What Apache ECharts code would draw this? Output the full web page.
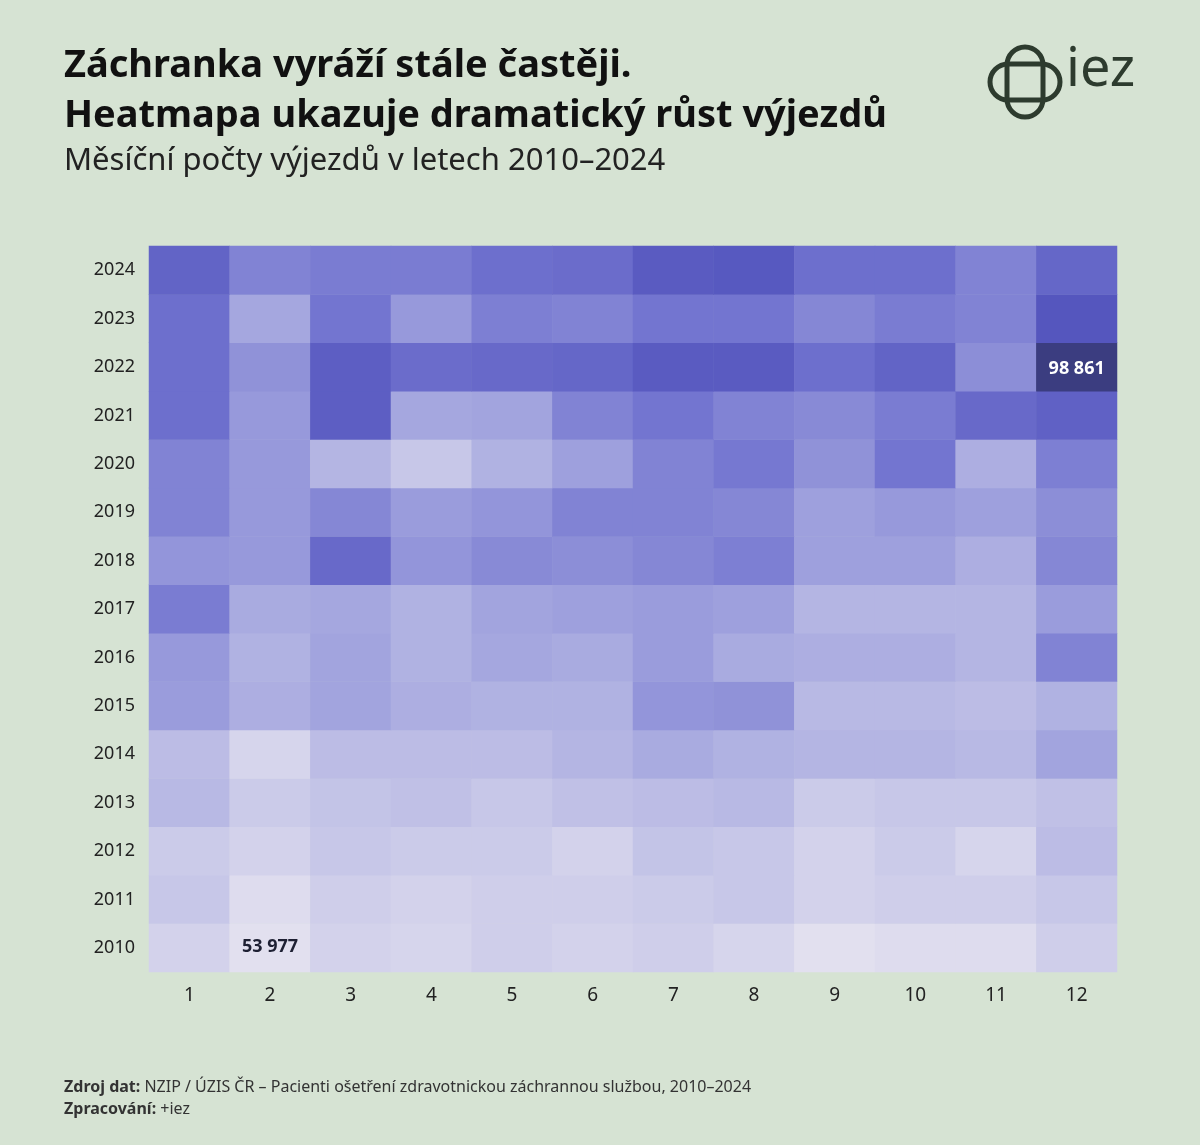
<!DOCTYPE html><html><head><meta charset="utf-8">
<script src="https://cdn.jsdelivr.net/npm/echarts@6/dist/echarts.min.js"></script>
<style>html,body{margin:0;background:#d6e3d3}#c{width:1200px;height:1145px}</style></head><body><div id="c"></div>
<script>
const months=['1','2','3','4','5','6','7','8','9','10','11','12'];
const years=['2010','2011','2012','2013','2014','2015','2016','2017','2018','2019','2020','2021','2022','2023','2024'];
const v2010=[58000,53977,58000,57000,59000,58000,59000,57000,54000,55000,55000,59000];
const v2011=[61000,55000,59000,58000,59000,59000,60000,61000,58000,59000,59000,61000];
const v2012=[60000,58000,61000,60000,60000,58000,62000,61000,58000,60000,57000,64000];
const v2013=[65000,60000,62000,63000,61000,63000,64000,65000,60000,61000,61000,63000];
const v2014=[64000,57000,64000,64000,64000,66000,69000,67000,66000,66000,65000,71000];
const v2015=[73000,68000,71000,68000,67000,67000,75000,76000,65000,65000,64000,67000];
const v2016=[74000,67000,71000,67000,70000,69000,73000,69000,68000,68000,66000,80000];
const v2017=[82000,69000,70000,67000,71000,72000,73000,72000,66000,66000,66000,73000];
const v2018=[75000,74000,88000,75000,78000,77000,79000,81000,72000,72000,68000,79000];
const v2019=[80000,74000,79000,73000,75000,80000,80000,79000,72000,74000,72000,77000];
const v2020=[80000,74000,66000,61000,67000,72000,80000,83000,76000,84000,68000,81000];
const v2021=[86000,74000,92000,70000,71000,80000,84000,80000,78000,82000,88000,91000];
const v2022=[86000,76000,92000,87000,88000,89000,93000,93000,86000,90000,77000,98861];
const v2023=[86000,70000,84000,74000,81000,80000,84000,84000,79000,82000,80000,95000];
const v2024=[90000,80000,82000,82000,86000,87000,93000,94000,86000,86000,80000,89000];
const rows=[v2010,v2011,v2012,v2013,v2014,v2015,v2016,v2017,v2018,v2019,v2020,v2021,v2022,v2023,v2024];
const data=[];
rows.forEach((r,y)=>r.forEach((v,x)=>{
  const d={value:[x,y,v]};
  if(v===98861){d.itemStyle={color:'#3b3d80'};d.label={show:true,color:'#fff',formatter:'98 861',fontSize:18,fontWeight:'bold',offset:[0,2]};}
  if(v===53977){d.label={show:true,color:'#1e2033',formatter:'53 977',fontSize:18,fontWeight:'bold',offset:[0,-1]};}
  data.push(d);
}));
const ch=echarts.init(document.getElementById('c'));
const F='Noto Sans';
ch.setOption({
  backgroundColor:'#d6e3d3',
  textStyle:{fontFamily:F},
  title:[
    {text:'Záchranka vyráží stále častěji.\nHeatmapa ukazuje dramatický růst výjezdů',left:59,top:36,textStyle:{fontFamily:F,fontSize:38,fontWeight:'bold',color:'#111',lineHeight:50}},
    {text:'Měsíční počty výjezdů v letech 2010–2024',left:59,top:141,textStyle:{fontFamily:F,fontSize:31,fontWeight:'normal',color:'#222'}},
    {text:'{b|Zdroj dat:} NZIP / ÚZIS ČR – Pacienti ošetření zdravotnickou záchrannou službou, 2010–2024\n{b|Zpracování:} +iez',left:59,top:1071,textStyle:{fontFamily:F,fontSize:16,fontWeight:'normal',color:'#333',lineHeight:22,rich:{b:{fontWeight:'bold',fontSize:16,color:'#333',fontFamily:F}}}}
  ],
  grid:{left:149,right:83,top:246,bottom:173},
  xAxis:{type:'category',data:months,axisLine:{show:false},axisTick:{show:false},splitArea:{show:false},axisLabel:{fontSize:19,color:'#222',margin:14}},
  yAxis:{type:'category',data:years,axisLine:{show:false},axisTick:{show:false},axisLabel:{fontSize:18,color:'#222',margin:14}},
  visualMap:{show:false,min:53977,max:98861,dimension:2,inRange:{color:['#e2e0ef','#a9abe0','#7375d0','#4a4bb8']}},
  series:[{type:'heatmap',data:data,label:{show:false},emphasis:{disabled:true}}],
  graphic:[
    {type:'rect',shape:{x:1007,y:47,width:36,height:70,r:18},style:{fill:'none',stroke:'#2d3b2e',lineWidth:5}},
    {type:'rect',shape:{x:990,y:64,width:70,height:36,r:18},style:{fill:'none',stroke:'#2d3b2e',lineWidth:5}},
    {type:'text',left:1066,top:44,style:{text:'iez',font:'54px "Noto Sans"',fill:'#2d3b2e'}}
  ]
});
</script></body></html>
